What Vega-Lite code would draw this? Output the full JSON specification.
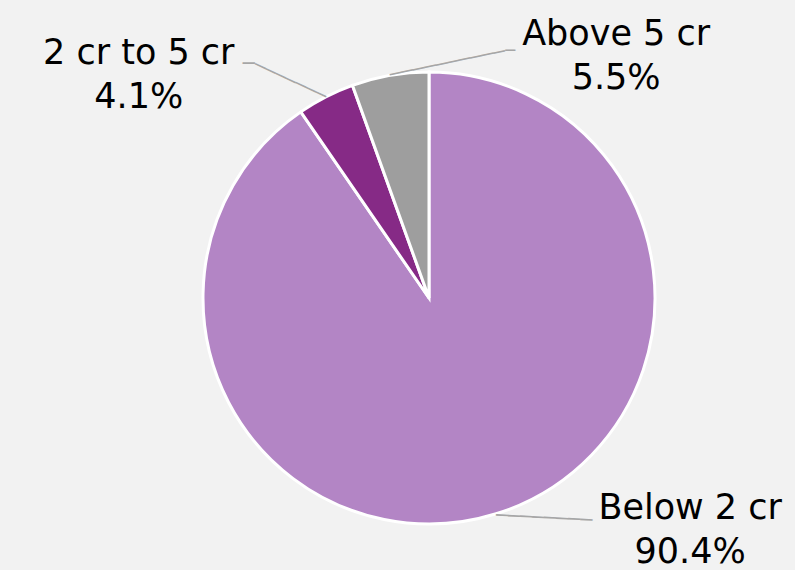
{
  "$schema": "https://vega.github.io/schema/vega-lite/v6.json",
  "width": 452,
  "height": 452,
  "autosize": {"type": "none"},
  "padding": {"left": 203, "top": 72, "right": 140, "bottom": 46},
  "background": "#F2F2F2",
  "config": {"view": {"stroke": null}},
  "data": {
    "values": [
      {"category": "Below 2 cr", "share": 0.904, "ord": 1},
      {"category": "2 cr to 5 cr", "share": 0.041, "ord": 2},
      {"category": "Above 5 cr", "share": 0.055, "ord": 3}
    ]
  },
  "transform": [
    {"calculate": "datum.category + '\\n' + format(datum.share, '.1%')", "as": "label"}
  ],
  "encoding": {
    "theta": {"field": "share", "type": "quantitative", "stack": true},
    "order": {"field": "ord", "type": "quantitative", "sort": "ascending"}
  },
  "layer": [
    {
      "mark": {"type": "arc", "stroke": "#FFFFFF", "strokeWidth": 3},
      "encoding": {
        "color": {
          "field": "category",
          "type": "nominal",
          "scale": {
            "domain": ["Below 2 cr", "2 cr to 5 cr", "Above 5 cr"],
            "range": ["#B385C5", "#862A86", "#9E9E9E"]
          },
          "legend": null
        }
      }
    },
    {
      "mark": {"type": "text", "radius": 226, "angle": 3, "align": "left", "baseline": "middle", "dy": 2, "font": "DejaVu Sans Mono", "fontSize": 20, "color": "#A6A6A6"},
      "encoding": {
        "detail": {"field": "category", "type": "nominal"},
        "text": {"value": "────────"},
        "opacity": {"condition": {"test": "datum.category === 'Below 2 cr'", "value": 1}, "value": 0}
      }
    },
    {
      "mark": {"type": "text", "radius": 226, "angle": 24.9, "align": "right", "baseline": "middle", "font": "DejaVu Sans Mono", "fontSize": 18.5, "color": "#A6A6A6"},
      "encoding": {
        "detail": {"field": "category", "type": "nominal"},
        "text": {"value": "───────"},
        "opacity": {"condition": {"test": "datum.category === '2 cr to 5 cr'", "value": 1}, "value": 0}
      }
    },
    {
      "mark": {"type": "text", "radius": 226, "angle": 0, "align": "right", "baseline": "middle", "dx": -71, "dy": -33, "font": "DejaVu Sans Mono", "fontSize": 20, "color": "#A6A6A6"},
      "encoding": {
        "detail": {"field": "category", "type": "nominal"},
        "text": {"value": "─"},
        "opacity": {"condition": {"test": "datum.category === '2 cr to 5 cr'", "value": 1}, "value": 0}
      }
    },
    {
      "mark": {"type": "text", "radius": 226, "angle": -11.8, "align": "left", "baseline": "middle", "font": "DejaVu Sans Mono", "fontSize": 19.5, "color": "#A6A6A6"},
      "encoding": {
        "detail": {"field": "category", "type": "nominal"},
        "text": {"value": "──────────"},
        "opacity": {"condition": {"test": "datum.category === 'Above 5 cr'", "value": 1}, "value": 0}
      }
    },
    {
      "mark": {"type": "text", "radius": 226, "angle": 0, "align": "left", "baseline": "middle", "dx": 115, "dy": -24, "font": "DejaVu Sans Mono", "fontSize": 16.6, "color": "#A6A6A6"},
      "encoding": {
        "detail": {"field": "category", "type": "nominal"},
        "text": {"value": "─"},
        "opacity": {"condition": {"test": "datum.category === 'Above 5 cr'", "value": 1}, "value": 0}
      }
    },
    {
      "mark": {"type": "text", "radius": 226, "dx": 194, "dy": 5, "align": "center", "baseline": "alphabetic", "font": "DejaVu Sans", "fontSize": 35, "lineBreak": "\n", "lineHeight": 44, "color": "#000000"},
      "encoding": {
        "detail": {"field": "category", "type": "nominal"},
        "text": {"field": "label", "type": "nominal"},
        "opacity": {"condition": {"test": "datum.category === 'Below 2 cr'", "value": 1}, "value": 0}
      }
    },
    {
      "mark": {"type": "text", "radius": 226, "dx": -187, "dy": -33, "align": "center", "baseline": "alphabetic", "font": "DejaVu Sans", "fontSize": 35, "lineBreak": "\n", "lineHeight": 44, "color": "#000000"},
      "encoding": {
        "detail": {"field": "category", "type": "nominal"},
        "text": {"field": "label", "type": "nominal"},
        "opacity": {"condition": {"test": "datum.category === '2 cr to 5 cr'", "value": 1}, "value": 0}
      }
    },
    {
      "mark": {"type": "text", "radius": 226, "dx": 226, "dy": -30, "align": "center", "baseline": "alphabetic", "font": "DejaVu Sans", "fontSize": 35, "lineBreak": "\n", "lineHeight": 44, "color": "#000000"},
      "encoding": {
        "detail": {"field": "category", "type": "nominal"},
        "text": {"field": "label", "type": "nominal"},
        "opacity": {"condition": {"test": "datum.category === 'Above 5 cr'", "value": 1}, "value": 0}
      }
    }
  ]
}
